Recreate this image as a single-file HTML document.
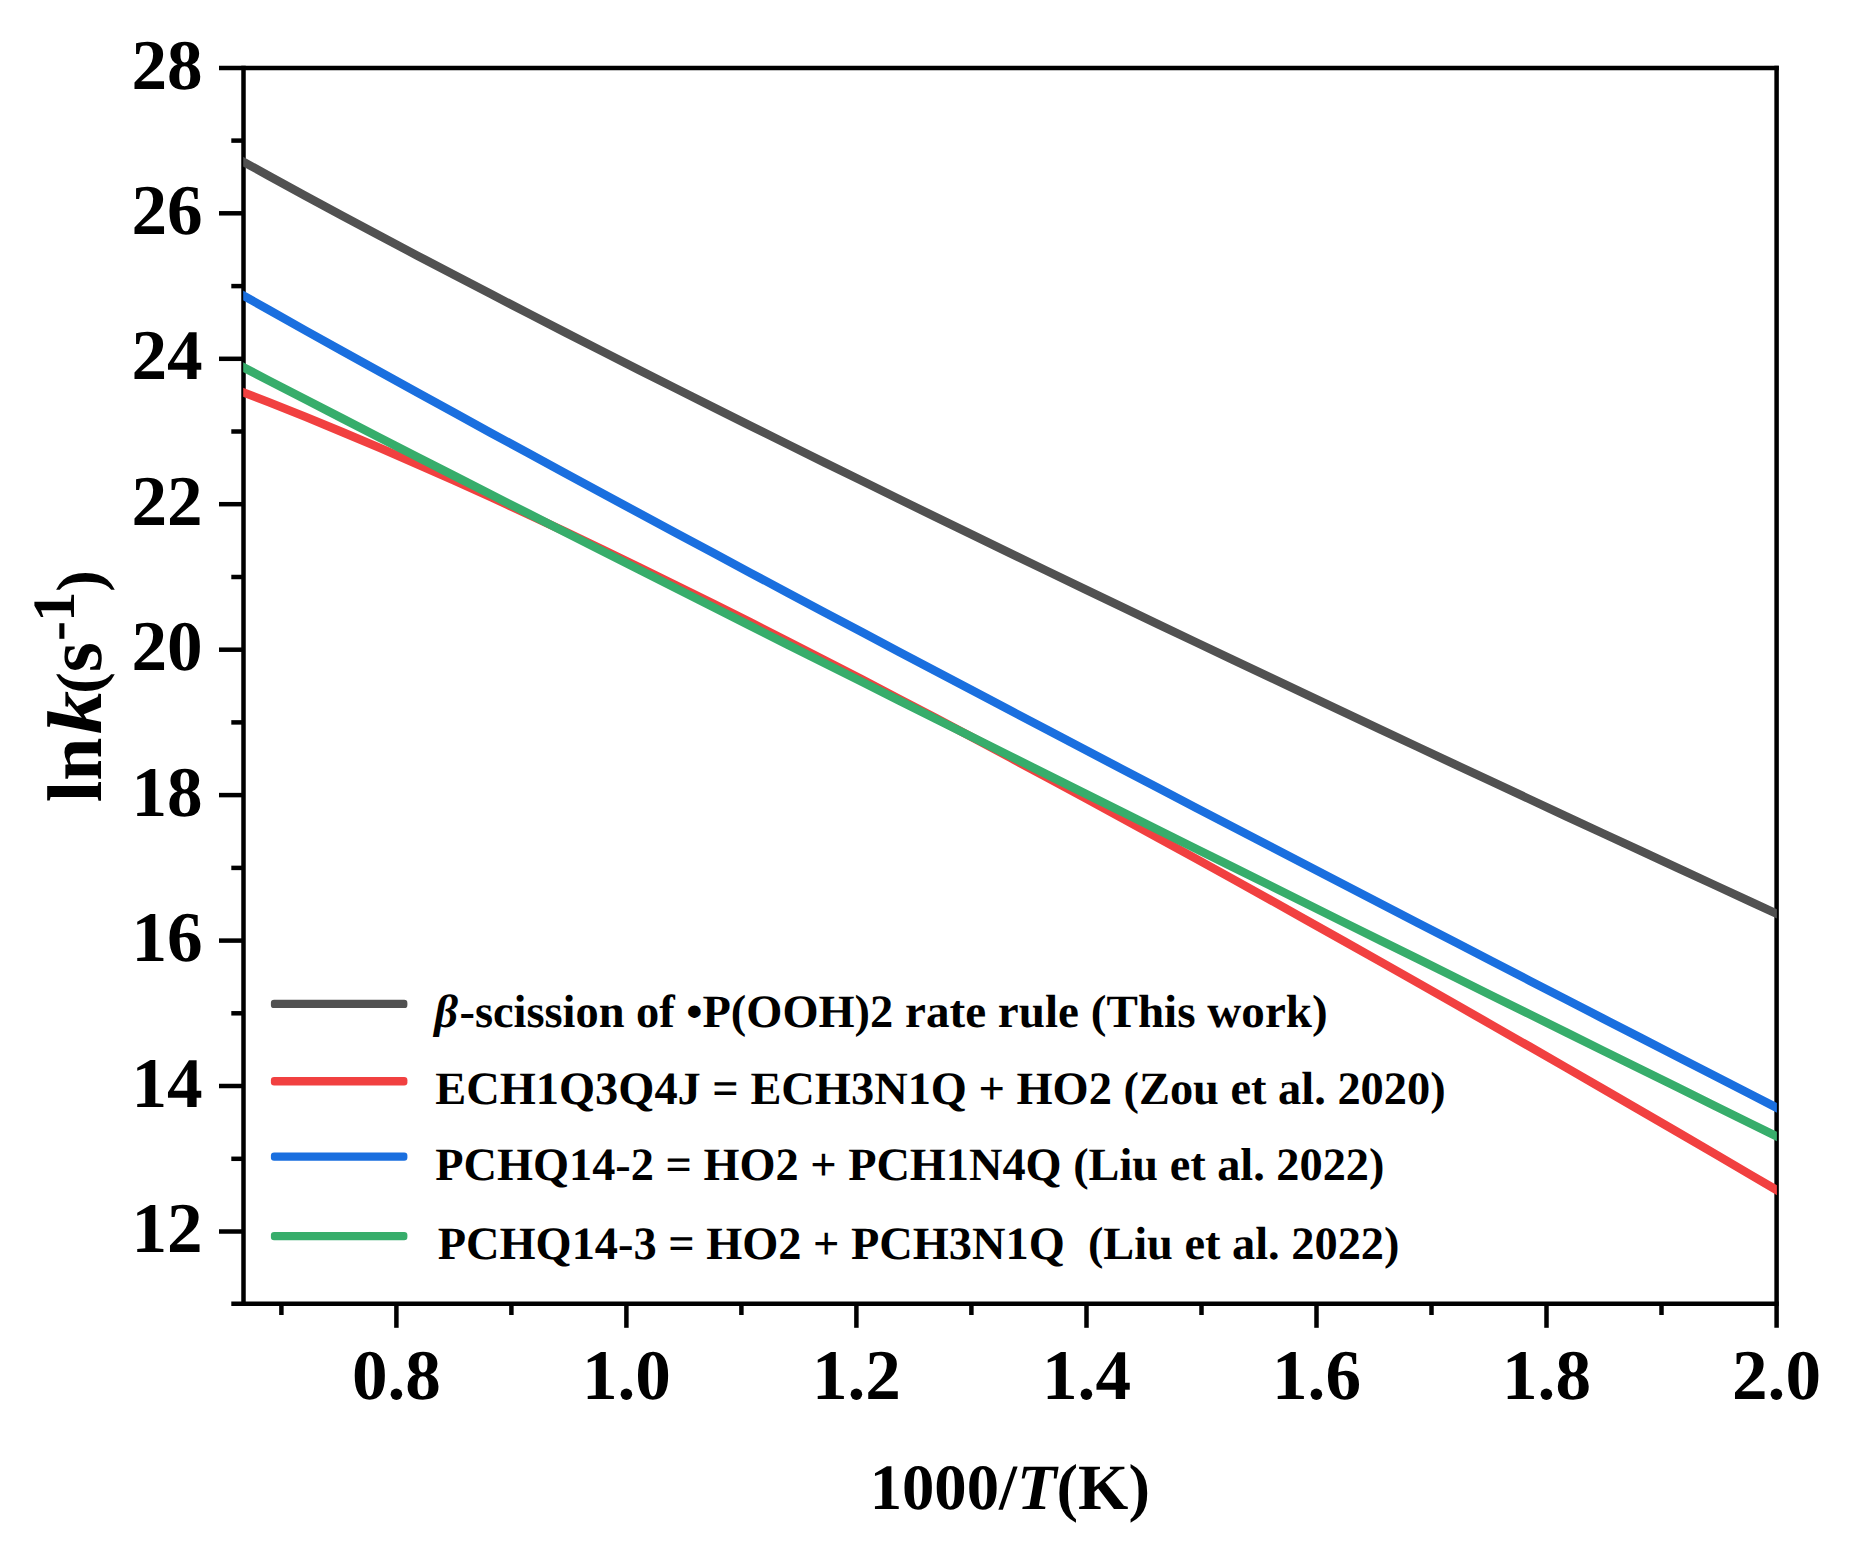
<!DOCTYPE html>
<html><head><meta charset="utf-8"><title>lnk vs 1000/T</title>
<style>
html,body{margin:0;padding:0;background:#fff;}
svg{display:block;}
text{font-family:"Liberation Serif","Times New Roman",serif;font-weight:bold;fill:#000;font-kerning:none;font-variant-ligatures:none;text-rendering:geometricPrecision;white-space:pre;}
.it{font-style:italic;}
</style></head><body>
<svg width="1866" height="1555" viewBox="0 0 1866 1555">
<rect width="1866" height="1555" fill="#fff"/>

<g stroke="#000" stroke-width="4.5" fill="none" stroke-linecap="butt">
<line x1="219" y1="67.9" x2="1778.8" y2="67.9"/>
<line x1="231.3" y1="1303.7" x2="1778.8" y2="1303.7"/>
<line x1="243.5" y1="65.7" x2="243.5" y2="1306.0"/>
<line x1="1776.6" y1="65.7" x2="1776.6" y2="1327.8"/>
<line x1="219" y1="1231.5" x2="243.5" y2="1231.5"/>
<line x1="219" y1="1086.0" x2="243.5" y2="1086.0"/>
<line x1="219" y1="940.6" x2="243.5" y2="940.6"/>
<line x1="219" y1="795.1" x2="243.5" y2="795.1"/>
<line x1="219" y1="649.7" x2="243.5" y2="649.7"/>
<line x1="219" y1="504.2" x2="243.5" y2="504.2"/>
<line x1="219" y1="358.8" x2="243.5" y2="358.8"/>
<line x1="219" y1="213.3" x2="243.5" y2="213.3"/>
<line x1="231.3" y1="1158.8" x2="243.5" y2="1158.8"/>
<line x1="231.3" y1="1013.3" x2="243.5" y2="1013.3"/>
<line x1="231.3" y1="867.9" x2="243.5" y2="867.9"/>
<line x1="231.3" y1="722.4" x2="243.5" y2="722.4"/>
<line x1="231.3" y1="577.0" x2="243.5" y2="577.0"/>
<line x1="231.3" y1="431.5" x2="243.5" y2="431.5"/>
<line x1="231.3" y1="286.1" x2="243.5" y2="286.1"/>
<line x1="231.3" y1="140.6" x2="243.5" y2="140.6"/>
<line x1="396.4" y1="1303.7" x2="396.4" y2="1327.8"/>
<line x1="626.4" y1="1303.7" x2="626.4" y2="1327.8"/>
<line x1="856.4" y1="1303.7" x2="856.4" y2="1327.8"/>
<line x1="1086.5" y1="1303.7" x2="1086.5" y2="1327.8"/>
<line x1="1316.5" y1="1303.7" x2="1316.5" y2="1327.8"/>
<line x1="1546.5" y1="1303.7" x2="1546.5" y2="1327.8"/>
<line x1="281.4" y1="1303.7" x2="281.4" y2="1315"/>
<line x1="511.4" y1="1303.7" x2="511.4" y2="1315"/>
<line x1="741.4" y1="1303.7" x2="741.4" y2="1315"/>
<line x1="971.4" y1="1303.7" x2="971.4" y2="1315"/>
<line x1="1201.5" y1="1303.7" x2="1201.5" y2="1315"/>
<line x1="1431.5" y1="1303.7" x2="1431.5" y2="1315"/>
<line x1="1661.5" y1="1303.7" x2="1661.5" y2="1315"/>
</g>
<clipPath id="plotclip"><rect x="243.2" y="67.9" width="1533.7" height="1235.8"/></clipPath>
<g fill="none" stroke-width="8.5" stroke-linecap="butt" stroke-linejoin="round" clip-path="url(#plotclip)">
<path d="M231.5,155.2 L268.6,175.7 L305.6,195.9 L342.7,215.9 L379.8,235.7 L416.9,255.4 L453.9,274.8 L491.0,294.1 L528.1,313.3 L565.2,332.4 L602.2,351.3 L639.3,370.1 L676.4,388.8 L713.5,407.4 L750.5,425.9 L787.6,444.3 L824.7,462.6 L861.8,480.8 L898.8,499.0 L935.9,517.1 L973.0,535.1 L1010.0,553.1 L1047.1,571.0 L1084.2,588.8 L1121.3,606.6 L1158.3,624.3 L1195.4,642.0 L1232.5,659.6 L1269.6,677.2 L1306.6,694.7 L1343.7,712.2 L1380.8,729.6 L1417.9,747.0 L1454.9,764.4 L1492.0,781.7 L1529.1,799.0 L1566.2,816.3 L1603.2,833.5 L1640.3,850.7 L1677.4,867.9 L1714.5,885.0 L1751.5,902.1 L1788.6,919.2" stroke="#515151"/>
<path d="M231.5,387.8 L268.6,402.1 L305.6,416.9 L342.7,432.2 L379.8,447.9 L416.9,464.0 L453.9,480.4 L491.0,497.2 L528.1,514.3 L565.2,531.7 L602.2,549.4 L639.3,567.3 L676.4,585.5 L713.5,603.8 L750.5,622.4 L787.6,641.2 L824.7,660.2 L861.8,679.3 L898.8,698.7 L935.9,718.1 L973.0,737.8 L1010.0,757.6 L1047.1,777.5 L1084.2,797.5 L1121.3,817.7 L1158.3,838.0 L1195.4,858.4 L1232.5,878.9 L1269.6,899.5 L1306.6,920.2 L1343.7,941.0 L1380.8,961.9 L1417.9,982.9 L1454.9,1003.9 L1492.0,1025.1 L1529.1,1046.3 L1566.2,1067.6 L1603.2,1089.0 L1640.3,1110.5 L1677.4,1132.0 L1714.5,1153.6 L1751.5,1175.3 L1788.6,1197.0" stroke="#F14040"/>
<path d="M231.5,288.8 L268.6,309.8 L305.6,330.6 L342.7,351.2 L379.8,371.8 L416.9,392.3 L453.9,412.6 L491.0,432.9 L528.1,453.1 L565.2,473.3 L602.2,493.3 L639.3,513.3 L676.4,533.2 L713.5,553.1 L750.5,572.9 L787.6,592.7 L824.7,612.4 L861.8,632.1 L898.8,651.7 L935.9,671.3 L973.0,690.8 L1010.0,710.3 L1047.1,729.8 L1084.2,749.3 L1121.3,768.7 L1158.3,788.0 L1195.4,807.4 L1232.5,826.7 L1269.6,846.0 L1306.6,865.3 L1343.7,884.5 L1380.8,903.7 L1417.9,922.9 L1454.9,942.1 L1492.0,961.2 L1529.1,980.4 L1566.2,999.5 L1603.2,1018.6 L1640.3,1037.6 L1677.4,1056.7 L1714.5,1075.7 L1751.5,1094.8 L1788.6,1113.8" stroke="#1A6FDF"/>
<path d="M231.5,361.2 L268.6,380.4 L305.6,399.6 L342.7,418.6 L379.8,437.7 L416.9,456.7 L453.9,475.6 L491.0,494.5 L528.1,513.4 L565.2,532.2 L602.2,551.0 L639.3,569.8 L676.4,588.5 L713.5,607.2 L750.5,625.9 L787.6,644.6 L824.7,663.2 L861.8,681.8 L898.8,700.4 L935.9,719.0 L973.0,737.5 L1010.0,756.0 L1047.1,774.6 L1084.2,793.1 L1121.3,811.5 L1158.3,830.0 L1195.4,848.5 L1232.5,866.9 L1269.6,885.3 L1306.6,903.8 L1343.7,922.2 L1380.8,940.6 L1417.9,958.9 L1454.9,977.3 L1492.0,995.7 L1529.1,1014.0 L1566.2,1032.4 L1603.2,1050.7 L1640.3,1069.0 L1677.4,1087.3 L1714.5,1105.7 L1751.5,1124.0 L1788.6,1142.2" stroke="#37AD6B"/>
</g>
<g font-size="71.2" text-anchor="end">
<text x="202.7" y="1252.1">12</text>
<text x="202.7" y="1106.6">14</text>
<text x="202.7" y="961.2">16</text>
<text x="202.7" y="815.8">18</text>
<text x="202.7" y="670.3">20</text>
<text x="202.7" y="524.9">22</text>
<text x="202.7" y="379.4">24</text>
<text x="202.7" y="233.9">26</text>
<text x="202.7" y="88.5">28</text>
</g>
<g font-size="71.2" text-anchor="middle">
<text x="396.4" y="1399.1">0.8</text>
<text x="626.4" y="1399.1">1.0</text>
<text x="856.4" y="1399.1">1.2</text>
<text x="1086.5" y="1399.1">1.4</text>
<text x="1316.5" y="1399.1">1.6</text>
<text x="1546.5" y="1399.1">1.8</text>
<text x="1776.5" y="1399.1">2.0</text>
</g>
<text x="1009.8" y="1508.8" font-size="64.7" text-anchor="middle">1000/<tspan class="it">T</tspan>(K)</text>
<g transform="translate(101.3,802.2) rotate(-90)" font-size="77.6">
<text x="0" y="0">ln</text>
<text transform="translate(67.9,0) scale(1.115,1)" class="it">k</text>
<text x="108.4" y="0" font-size="64.7">(</text>
<text x="130.0" y="0">s</text>
<text x="161.2" y="-25.3" font-size="60">-</text>
<text x="180.4" y="-27.2" font-size="60">1</text>
<text x="210.4" y="0" font-size="64.7">)</text>
</g>
<rect x="270.9" y="999.7" width="136.5" height="8.4" rx="3.2" fill="#515151"/>
<text x="434.3" y="1027.4" font-size="46.4" xml:space="preserve"><tspan class="it">β</tspan><tspan dx="1.4">-</tspan>scission of •P(OOH)2</text>
<text transform="translate(905.0,1027.4) scale(1.0157,1)" font-size="46.4" xml:space="preserve">rate rule (This work)</text>
<rect x="270.9" y="1077.0" width="136.5" height="8.4" rx="3.2" fill="#F14040"/>
<text x="435.3" y="1103.7" font-size="46.4" xml:space="preserve">ECH1Q3Q4J = ECH3N1Q + HO2 (Zou et al. 2020)</text>
<rect x="270.9" y="1152.4" width="136.5" height="8.4" rx="3.2" fill="#1A6FDF"/>
<text x="435.3" y="1179.5" font-size="46.3" xml:space="preserve">PCHQ14-2 = HO2 + PCH1N4Q (Liu et al. 2022)</text>
<rect x="270.9" y="1231.9" width="136.5" height="8.4" rx="3.2" fill="#37AD6B"/>
<text x="437.8" y="1258.7" font-size="46.35" xml:space="preserve">PCHQ14-3 = HO2 + PCH3N1Q  (Liu et al. 2022)</text>
</svg></body></html>
